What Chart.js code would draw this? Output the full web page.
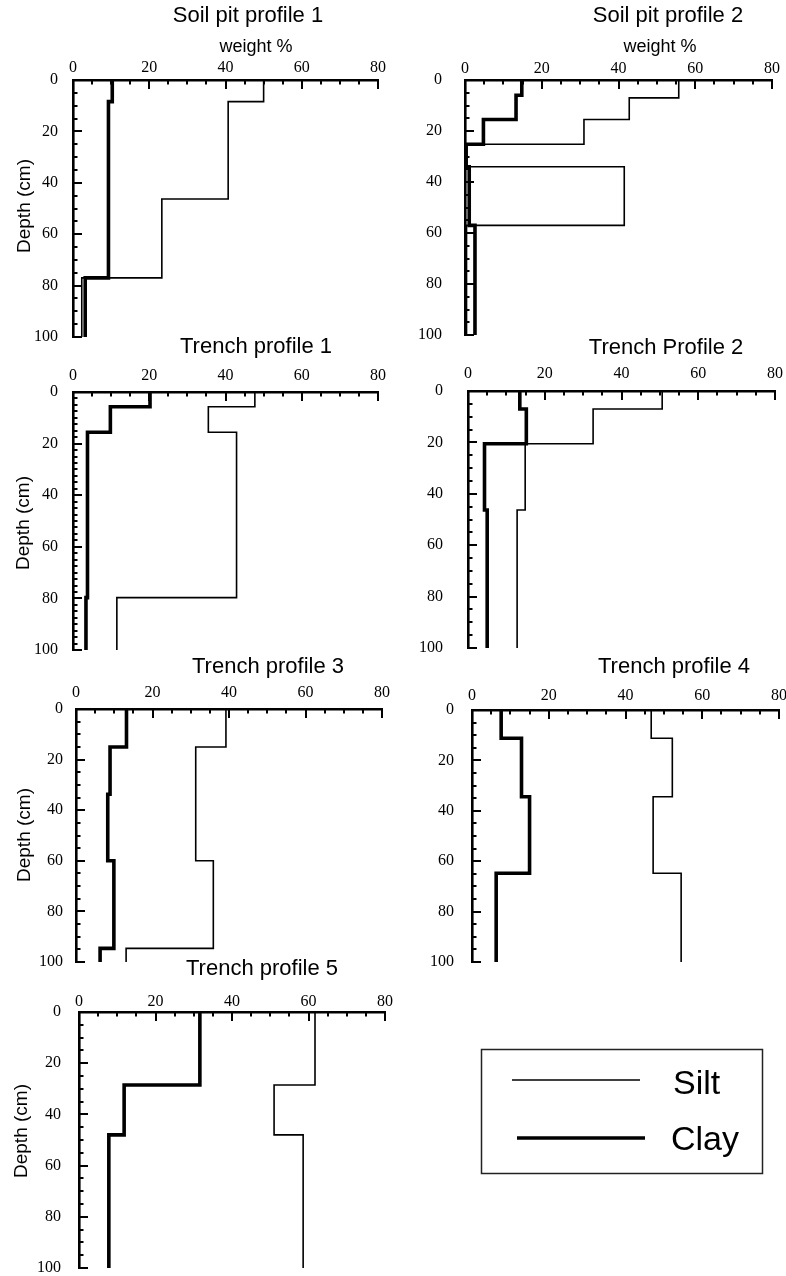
<!DOCTYPE html>
<html><head><meta charset="utf-8">
<script src="https://cdn.jsdelivr.net/npm/chart.js@4.4.1/dist/chart.umd.min.js"></script>
<style>
html,body{margin:0;padding:0;background:#fff;}
#wrap{position:relative;width:786px;height:1276px;overflow:hidden;background:#fff;}
#wrap canvas{position:absolute;left:0;top:0;}
</style></head><body><div id="wrap"></div>
<script>
// ---- tick labels ----
const xTickValues = [0, 20, 40, 60, 80];
const yTickValues = [0, 20, 40, 60, 80, 100];
const seriesNames = ['Silt', 'Clay'];
const panelTitles = ['Soil pit profile 1', 'Soil pit profile 2', 'Trench profile 1', 'Trench Profile 2', 'Trench profile 3', 'Trench profile 4', 'Trench profile 5'];
const xAxisTitle = 'weight %';
const yAxisTitle = 'Depth (cm)';

// ---- data: layer boundaries (depth, cm) and weight % per layer ----
// Soil pit profile 1
const sp1SiltDepth = [0, 8.4, 46.3, 77, 100];
const sp1SiltValue = [50, 40.7, 23.3, 2.3];
const sp1ClayDepth = [0, 8.4, 77, 100];
const sp1ClayValue = [10.3, 9.3, 3.2];
// Soil pit profile 2
const sp2SiltDepth = [0, 7, 15.5, 25.2, 34, 57, 100];
const sp2SiltValue = [55.7, 42.8, 31, 0.4, 41.5, 0.4];
const sp2ClayDepth = [0, 6, 15.5, 25.2, 34, 57, 100];
const sp2ClayValue = [14.8, 13.3, 4.8, 0.3, 1.1, 2.6];
// Trench profile 1
const tp1SiltDepth = [0, 5.7, 15.6, 79.7, 100];
const tp1SiltValue = [47.7, 35.5, 42.9, 11.5];
const tp1ClayDepth = [0, 5.7, 15.6, 79.7, 100];
const tp1ClayValue = [20.2, 9.8, 3.8, 3.4];
// Trench Profile 2
const tp2SiltDepth = [0, 7, 20.5, 46.3, 100];
const tp2SiltValue = [50.6, 32.6, 14.9, 12.8];
const tp2ClayDepth = [0, 7, 20.5, 46.3, 100];
const tp2ClayValue = [13.5, 15.2, 4.3, 5.0];
// Trench profile 3
const tp3SiltDepth = [0, 15, 60, 94.6, 100];
const tp3SiltValue = [39.2, 31.3, 35.9, 13.1];
const tp3ClayDepth = [0, 15, 33.7, 60, 94.6, 100];
const tp3ClayValue = [13.2, 8.9, 8.3, 9.9, 6.3];
// Trench profile 4
const tp4SiltDepth = [0, 11.2, 34.4, 64.8, 100];
const tp4SiltValue = [46.7, 52.2, 47.2, 54.5];
const tp4ClayDepth = [0, 11.2, 34.4, 64.8, 100];
const tp4ClayValue = [7.6, 12.9, 15.0, 6.3];
// Trench profile 5
const tp5SiltDepth = [0, 28.5, 48, 100];
const tp5SiltValue = [61.7, 51, 58.6];
const tp5ClayDepth = [0, 28.5, 48, 100];
const tp5ClayValue = [31.6, 11.8, 7.8];

// ---- layout (page pixels) ----
const PAGE_W = 786, PAGE_H = 1276, AXIS_H = 30, AXIS_W = 62;
const panels = [
  {silt:[sp1SiltDepth, sp1SiltValue], clay:[sp1ClayDepth, sp1ClayValue], area:[73,80,378,337], title:[248,16], xt:[256,47], yt:[25,206], xPad:3, yPad:15, yMinor:5},
  {silt:[sp2SiltDepth, sp2SiltValue], clay:[sp2ClayDepth, sp2ClayValue], area:[465,80,772,335], title:[668,16], xt:[660,47], yt:null, xPad:2, yPad:23, yMinor:5},
  {silt:[tp1SiltDepth, tp1SiltValue], clay:[tp1ClayDepth, tp1ClayValue], area:[73,392,378,650], title:[256,347], xt:null, yt:[24,523], xPad:7, yPad:15, yMinor:2.5},
  {silt:[tp2SiltDepth, tp2SiltValue], clay:[tp2ClayDepth, tp2ClayValue], area:[468,391,775,648], title:[666,348], xt:null, yt:null, xPad:8, yPad:25, yMinor:5},
  {silt:[tp3SiltDepth, tp3SiltValue], clay:[tp3ClayDepth, tp3ClayValue], area:[76,709,382,962], title:[268,667], xt:null, yt:[25,835], xPad:7, yPad:13, yMinor:5},
  {silt:[tp4SiltDepth, tp4SiltValue], clay:[tp4ClayDepth, tp4ClayValue], area:[472,710,779,962], title:[674,667], xt:null, yt:null, xPad:5, yPad:18, yMinor:5},
  {silt:[tp5SiltDepth, tp5SiltValue], clay:[tp5ClayDepth, tp5ClayValue], area:[79,1012,385,1268], title:[262,969], xt:null, yt:[22,1131], xPad:1, yPad:18, yMinor:5, legend:true}
];

function stepPoints(depths, values) {
  const pts = [];
  for (let i = 0; i < values.length; i++) {
    pts.push({x: values[i], y: depths[i]});
    pts.push({x: values[i], y: depths[i + 1]});
  }
  return pts;
}

const inwardTicks = {
  id: 'inwardTicks',
  afterDraw(chart, args, opts) {
    const {ctx, chartArea: a} = chart;
    const x = chart.scales.x, y = chart.scales.y;
    ctx.save();
    ctx.strokeStyle = '#000'; ctx.lineWidth = 2; ctx.lineCap = 'butt';
    for (let v = x.min; v <= x.max + 1e-9; v += 5) {
      const px = Math.round(x.getPixelForValue(v));
      const len = (Math.abs(v % 20) < 1e-6) ? 9 : 4.5;
      ctx.beginPath(); ctx.moveTo(px, a.top); ctx.lineTo(px, a.top + len); ctx.stroke();
    }
    for (let v = y.min; v <= y.max + 1e-9; v += opts.yMinor) {
      const py = Math.round(y.getPixelForValue(v));
      const len = (Math.abs(v % 20) < 1e-6) ? 9 : 4.5;
      ctx.beginPath(); ctx.moveTo(a.left, py); ctx.lineTo(a.left + len, py); ctx.stroke();
    }
    ctx.restore();
  }
};

const panelText = {
  id: 'panelText',
  afterDraw(chart, args, o) {
    const ctx = chart.ctx;
    ctx.save();
    ctx.fillStyle = '#000';
    ctx.textAlign = 'center'; ctx.textBaseline = 'middle';
    ctx.font = '22px "Liberation Sans", Arial, sans-serif';
    ctx.fillText(o.title, o.titlePos[0], o.titlePos[1]);
    if (o.xtPos) {
      ctx.font = '18px "Liberation Sans", Arial, sans-serif';
      ctx.fillText(xAxisTitle, o.xtPos[0], o.xtPos[1]);
    }
    if (o.ytPos) {
      ctx.font = '19px "Liberation Sans", Arial, sans-serif';
      ctx.translate(o.ytPos[0], o.ytPos[1]);
      ctx.rotate(-Math.PI / 2);
      ctx.fillText(yAxisTitle, 0, 0);
    }
    ctx.restore();
  }
};

const boxLegend = {
  id: 'boxLegend',
  afterDraw(chart, args, o) {
    if (!o.show) return;
    const ctx = chart.ctx;
    const ds = chart.data.datasets;
    ctx.save();
    ctx.strokeStyle = '#222'; ctx.lineWidth = 1.5;
    ctx.strokeRect(481.5, 1049.5, 281, 124);
    const rows = [{y: 1080, x1: 512, x2: 640, tx: 673, ty: 1085}, {y: 1138, x1: 517, x2: 645, tx: 671, ty: 1141}];
    ds.forEach((d, i) => {
      const r = rows[i];
      ctx.strokeStyle = d.borderColor; ctx.lineWidth = d.borderWidth; ctx.lineCap = 'butt';
      ctx.beginPath(); ctx.moveTo(r.x1, r.y); ctx.lineTo(r.x2, r.y); ctx.stroke();
      ctx.fillStyle = '#000'; ctx.font = '34px "Liberation Sans", Arial, sans-serif';
      ctx.textAlign = 'left'; ctx.textBaseline = 'middle';
      ctx.fillText(d.label, r.tx, r.ty);
    });
    ctx.restore();
  }
};

const wrap = document.getElementById('wrap');
panels.forEach((p, idx) => {
  const cv = document.createElement('canvas');
  cv.width = PAGE_W; cv.height = PAGE_H;
  cv.style.width = PAGE_W + 'px'; cv.style.height = PAGE_H + 'px';
  wrap.appendChild(cv);
  const [l, t, r, b] = p.area;
  new Chart(cv, {
    type: 'scatter',
    data: {
      datasets: [
        {label: seriesNames[0], data: stepPoints(p.silt[0], p.silt[1]), showLine: true, borderColor: '#000', backgroundColor: '#000', borderWidth: 1.6, pointRadius: 0, tension: 0, clip: false, borderJoinStyle: 'miter'},
        {label: seriesNames[1], data: stepPoints(p.clay[0], p.clay[1]), showLine: true, borderColor: '#000', backgroundColor: '#000', borderWidth: 3.6, pointRadius: 0, tension: 0, clip: false, borderJoinStyle: 'miter'}
      ]
    },
    options: {
      responsive: false, animation: false, devicePixelRatio: 1,
      events: [],
      layout: {padding: {left: l - AXIS_W, top: t - AXIS_H, right: PAGE_W - r, bottom: PAGE_H - b}},
      scales: {
        x: {
          type: 'linear', position: 'top', min: 0, max: 80,
          afterBuildTicks: s => { s.ticks = xTickValues.map(v => ({value: v})); },
          afterFit: s => { s.height = AXIS_H; s.paddingLeft = 0; s.paddingRight = 0; },
          ticks: {color: '#000', padding: p.xPad, maxRotation: 0, font: {family: '"Liberation Serif", "Times New Roman", serif', size: 16}},
          grid: {display: false, drawTicks: false, drawOnChartArea: false},
          border: {display: true, color: '#000', width: 2.6}
        },
        y: {
          type: 'linear', position: 'left', reverse: true, min: 0, max: 100,
          afterBuildTicks: s => { s.ticks = yTickValues.map(v => ({value: v})); },
          afterFit: s => { s.width = AXIS_W; s.paddingTop = 0; s.paddingBottom = 0; },
          ticks: {color: '#000', padding: p.yPad, font: {family: '"Liberation Serif", "Times New Roman", serif', size: 16}},
          grid: {display: false, drawTicks: false, drawOnChartArea: false},
          border: {display: true, color: '#000', width: 2.6}
        }
      },
      plugins: {
        legend: {display: false}, tooltip: {enabled: false}, title: {display: false},
        inwardTicks: {yMinor: p.yMinor},
        panelText: {title: panelTitles[idx], titlePos: p.title, xtPos: p.xt, ytPos: p.yt},
        boxLegend: {show: !!p.legend}
      }
    },
    plugins: [inwardTicks, panelText, boxLegend]
  });
});
</script>
</body></html>
